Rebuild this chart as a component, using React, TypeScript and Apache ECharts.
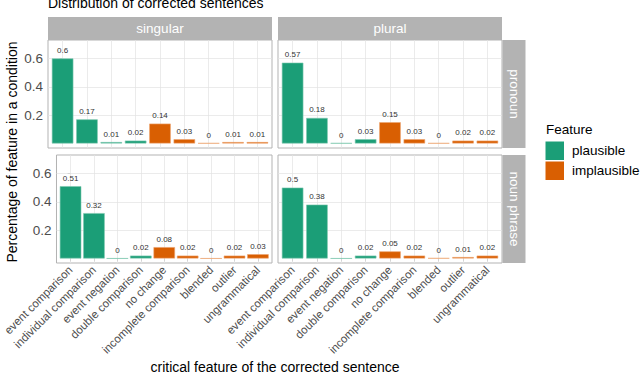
import React, { useEffect, useRef } from "react";
import * as echarts from "echarts";

const categories = [
  "event comparison",
  "individual comparison",
  "event negation",
  "double comparison",
  "no change",
  "incomplete comparison",
  "blended",
  "outlier",
  "ungrammatical",
];
const featureOf = [
  "plausible", "plausible", "plausible", "plausible",
  "implausible", "implausible", "implausible", "implausible", "implausible",
];
const columnLabels = ["singular", "plural"];
const rowLabels = ["pronoun", "noun phrase"];

const singularPronoun = [0.6, 0.17, 0.01, 0.02, 0.14, 0.03, 0.002, 0.01, 0.01];
const pluralPronoun = [0.57, 0.18, 0.002, 0.03, 0.15, 0.03, 0.002, 0.02, 0.02];
const singularNounPhrase = [0.51, 0.32, 0, 0.02, 0.08, 0.02, 0, 0.02, 0.03];
const pluralNounPhrase = [0.5, 0.38, 0, 0.02, 0.05, 0.02, 0.002, 0.01, 0.02];

const yTicks = [0.2, 0.4, 0.6];

const FONT = "'Liberation Sans', Arial, Helvetica, sans-serif";
const GREEN = "#1b9e77";
const ORANGE = "#d95f02";
const GREEN_EDGE = "#7cc7ae";
const ORANGE_EDGE = "#eda470";
const STRIP = "#b3b3b3";
const GRIDLINE = "#e3e3e3";

const panelX = [48, 278];
const panelY = [40, 155];
const panelW = 224;
const panelH = 108;

export default function App() {
  const ref = useRef<HTMLDivElement>(null);

  useEffect(() => {
    if (!ref.current) return;
    const chart = echarts.init(ref.current, undefined, { renderer: "svg" });

    const panels = [
      { r: 0, c: 0, values: singularPronoun },
      { r: 0, c: 1, values: pluralPronoun },
      { r: 1, c: 0, values: singularNounPhrase },
      { r: 1, c: 1, values: pluralNounPhrase },
    ];
    const catIdx = categories.map((_, i) => i);

    const grid = panels.map((p) => ({
      left: panelX[p.c],
      top: panelY[p.r],
      width: panelW,
      height: panelH,
      show: true,
      backgroundColor: "#ffffff",
      borderColor: STRIP,
      borderWidth: 1,
      containLabel: false,
    }));

    const xAxis = panels.map((p, k) => ({
      type: "value",
      gridIndex: k,
      min: -0.6,
      max: 8.6,
      axisLine: { show: false },
      splitLine: { show: false },
      axisTick: {
        show: p.r === 1,
        customValues: catIdx,
        length: 3,
        lineStyle: { color: STRIP, width: 1 },
      },
      axisLabel: {
        show: p.r === 1,
        customValues: catIdx,
        rotate: 45,
        margin: 5,
        padding: [11, 0, 0, 0],
        fontSize: 11.5,
        fontFamily: FONT,
        color: "#4d4d4d",
        formatter: (v: number) => categories[Math.round(v)] ?? "",
      },
    }));

    const yAxis = panels.map((p, k) => ({
      type: "value",
      gridIndex: k,
      min: -0.032,
      max: 0.73,
      axisLine: { show: false },
      splitLine: { show: false },
      axisTick: {
        show: p.c === 0,
        customValues: yTicks,
        length: 3,
        lineStyle: { color: STRIP, width: 1 },
      },
      axisLabel: {
        show: p.c === 0,
        customValues: yTicks,
        margin: 5,
        fontSize: 13.5,
        fontFamily: FONT,
        color: "#4d4d4d",
        formatter: (v: number) => v.toFixed(1),
      },
    }));

    const series: any[] = panels.map((p, k) => ({
      type: "bar",
      xAxisIndex: k,
      yAxisIndex: k,
      barWidth: 21.5,
      z: 3,
      data: p.values.map((v, i) => {
        const plausible = featureOf[i] === "plausible";
        return {
          value: [i, v],
          itemStyle: {
            color: plausible ? GREEN : ORANGE,
            borderColor: plausible ? GREEN_EDGE : ORANGE_EDGE,
            borderWidth: 0.6,
          },
        };
      }),
      label: {
        show: true,
        position: "top",
        distance: 4,
        fontSize: 8,
        fontFamily: FONT,
        color: "#333333",
        formatter: (params: any) => String(Math.round(params.value[1] * 100) / 100),
      },
      markLine: {
        silent: true,
        z: 1,
        symbol: ["none", "none"],
        label: { show: false },
        emphasis: { disabled: true },
        lineStyle: { color: GRIDLINE, width: 0.7, type: "solid" },
        data: [
          ...catIdx.map((i) => ({ xAxis: i })),
          ...yTicks.map((t) => ({ yAxis: t })),
        ],
      },
    }));

    series.push(
      { type: "line", name: "plausible", xAxisIndex: 0, yAxisIndex: 0, data: [], color: GREEN, itemStyle: { color: GREEN } },
      { type: "line", name: "implausible", xAxisIndex: 0, yAxisIndex: 0, data: [], color: ORANGE, itemStyle: { color: ORANGE } }
    );

    const graphics: any[] = [];
    graphics.push({
      type: "text",
      x: 48,
      y: 10,
      style: { text: "Distribution of corrected sentences", fontSize: 14, fontFamily: FONT, fill: "#000", align: "left", verticalAlign: "bottom" },
    });
    columnLabels.forEach((lab, c) => {
      graphics.push({ type: "rect", shape: { x: panelX[c], y: 17, width: panelW, height: 23 }, style: { fill: STRIP } });
      graphics.push({
        type: "text",
        x: panelX[c] + panelW / 2,
        y: 28.5,
        style: { text: lab, fontSize: 13.5, fontFamily: FONT, fill: "#ffffff", align: "center", verticalAlign: "middle" },
      });
    });
    rowLabels.forEach((lab, r) => {
      graphics.push({ type: "rect", shape: { x: 502.5, y: panelY[r], width: 23, height: panelH }, style: { fill: STRIP } });
      graphics.push({
        type: "text",
        x: 514,
        y: panelY[r] + panelH / 2,
        rotation: -Math.PI / 2,
        style: { text: lab, fontSize: 13.5, fontFamily: FONT, fill: "#ffffff", align: "center", verticalAlign: "middle" },
      });
    });
    graphics.push({
      type: "text",
      x: 12,
      y: 152,
      rotation: Math.PI / 2,
      style: { text: "Percentage of feature in a condition", fontSize: 14, fontFamily: FONT, fill: "#000", align: "center", verticalAlign: "middle" },
    });
    graphics.push({
      type: "text",
      x: 275,
      y: 366.5,
      style: { text: "critical feature of the corrected sentence", fontSize: 14, fontFamily: FONT, fill: "#000", align: "center", verticalAlign: "middle" },
    });
    graphics.push({
      type: "text",
      x: 546,
      y: 129,
      style: { text: "Feature", fontSize: 13.5, fontFamily: FONT, fill: "#000", align: "left", verticalAlign: "middle" },
    });

    chart.setOption({
      animation: false,
      backgroundColor: "#ffffff",
      textStyle: { fontFamily: FONT },
      grid,
      xAxis,
      yAxis,
      series,
      legend: {
        data: ["plausible", "implausible"],
        orient: "vertical",
        left: 545.5,
        top: 141.5,
        itemWidth: 18.5,
        itemHeight: 18.5,
        itemGap: 1.5,
        icon: "rect",
        selectedMode: false,
        padding: 0,
        textStyle: { fontSize: 13.5, fontFamily: FONT, color: "#000", padding: [0, 0, 0, 3] },
      },
      graphic: graphics,
    });

    return () => chart.dispose();
  }, []);

  return <div ref={ref} style={{ width: 640, height: 374, position: "absolute", left: 0, top: 0 }} />;
}
